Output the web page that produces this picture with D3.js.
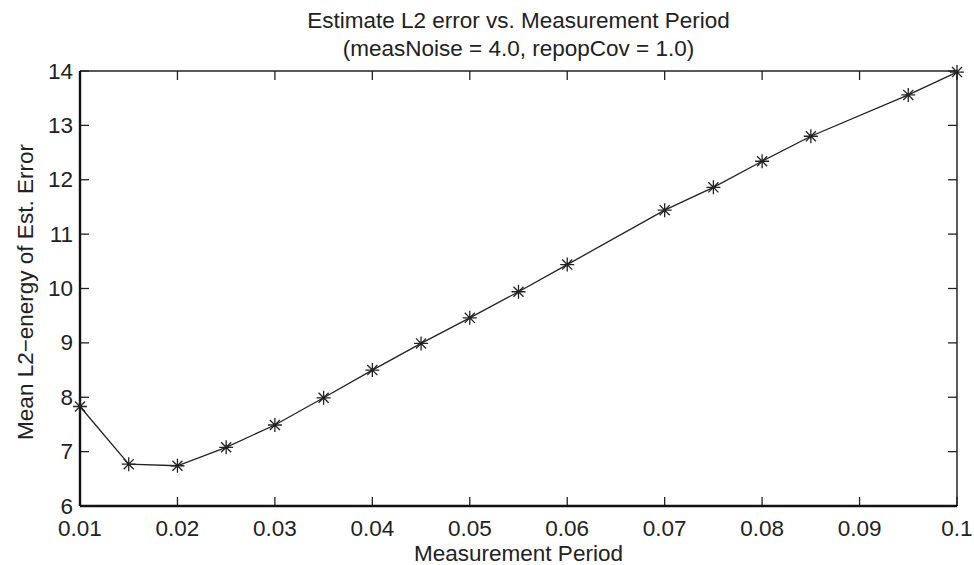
<!DOCTYPE html>
<html>
<head>
<meta charset="utf-8">
<script src="https://cdn.jsdelivr.net/npm/d3@7"></script>
<style>
  body { margin: 0; background: #fff; }
  text { font-family: "Liberation Sans", Arial, sans-serif; fill: #222; }
</style>
</head>
<body>
<div id="main"></div>
<script>
const periods = [0.01, 0.015, 0.02, 0.025, 0.03, 0.035, 0.04, 0.045, 0.05, 0.055, 0.06, 0.07, 0.075, 0.08, 0.085, 0.095, 0.1];
const errors = [7.83, 6.77, 6.74, 7.08, 7.49, 7.99, 8.50, 8.99, 9.46, 9.94, 10.44, 11.44, 11.86, 12.34, 12.80, 13.56, 13.98];
const xTicks = [0.01, 0.02, 0.03, 0.04, 0.05, 0.06, 0.07, 0.08, 0.09, 0.1];
const yTicks = [6, 7, 8, 9, 10, 11, 12, 13, 14];

const ctx = {
    w: 974,
    h: 565,
    left: 80,
    right: 957,
    top: 71,
    bottom: 506,
    tick: 9,
    font_size: 22.5,
};

function createViz() {
    let svg = d3.select("#main").append("svg")
        .attr("width", ctx.w)
        .attr("height", ctx.h);

    let x = d3.scaleLinear().domain([0.01, 0.1]).range([ctx.left, ctx.right]);
    let y = d3.scaleLinear().domain([6, 14]).range([ctx.bottom, ctx.top]);

    let fmtX = d => d === 0.1 ? "0.1" : d3.format(".2f")(d);

    // ticks (inside, mirrored on top/right)
    let g = svg.append("g").attr("stroke", "#222").attr("stroke-width", 1.3);
    xTicks.forEach(t => {
        g.append("line").attr("x1", x(t)).attr("x2", x(t))
            .attr("y1", ctx.bottom).attr("y2", ctx.bottom - ctx.tick);
        g.append("line").attr("x1", x(t)).attr("x2", x(t))
            .attr("y1", ctx.top).attr("y2", ctx.top + ctx.tick);
    });
    yTicks.forEach(t => {
        g.append("line").attr("x1", ctx.left).attr("x2", ctx.left + ctx.tick)
            .attr("y1", y(t)).attr("y2", y(t));
        g.append("line").attr("x1", ctx.right).attr("x2", ctx.right - ctx.tick)
            .attr("y1", y(t)).attr("y2", y(t));
    });

    // box
    svg.append("line").attr("x1", ctx.left).attr("x2", ctx.right)
        .attr("y1", ctx.top).attr("y2", ctx.top)
        .attr("stroke", "#222").attr("stroke-width", 1.5);
    svg.append("line").attr("x1", ctx.right).attr("x2", ctx.right)
        .attr("y1", ctx.top).attr("y2", ctx.bottom)
        .attr("stroke", "#222").attr("stroke-width", 1.5);
    svg.append("line").attr("x1", ctx.left).attr("x2", ctx.right)
        .attr("y1", ctx.bottom).attr("y2", ctx.bottom)
        .attr("stroke", "#111").attr("stroke-width", 2.4);
    svg.append("line").attr("x1", ctx.left).attr("x2", ctx.left)
        .attr("y1", ctx.top).attr("y2", ctx.bottom)
        .attr("stroke", "#111").attr("stroke-width", 2.4);

    // tick labels
    svg.append("g").selectAll("text")
        .data(xTicks).enter().append("text")
        .attr("x", d => x(d))
        .attr("y", 536)
        .attr("text-anchor", "middle")
        .style("font-size", ctx.font_size + "px")
        .text(fmtX);

    svg.append("g").selectAll("text")
        .data(yTicks).enter().append("text")
        .attr("x", 73)
        .attr("y", d => y(d) + 7.5)
        .attr("text-anchor", "end")
        .style("font-size", ctx.font_size + "px")
        .text(d => d);

    // data line
    let data = periods.map((p, i) => [p, errors[i]]);
    svg.append("path")
        .datum(data)
        .attr("fill", "none")
        .attr("stroke", "#222")
        .attr("stroke-width", 1.3)
        .attr("d", d3.line().x(d => x(d[0])).y(d => y(d[1])));

    // asterisk markers
    let r = 7;
    let star = "M0," + (-r) + "V" + r + "M" + (-r) + ",0H" + r
        + "M" + (-r * 0.72) + "," + (-r * 0.72) + "L" + (r * 0.72) + "," + (r * 0.72)
        + "M" + (-r * 0.72) + "," + (r * 0.72) + "L" + (r * 0.72) + "," + (-r * 0.72);
    svg.append("g").selectAll("path")
        .data(data).enter().append("path")
        .attr("transform", d => "translate(" + x(d[0]) + "," + y(d[1]) + ")")
        .attr("d", star)
        .attr("fill", "none")
        .attr("stroke", "#222")
        .attr("stroke-width", 1.3);

    // titles
    let cx = (ctx.left + ctx.right) / 2;
    svg.append("text").attr("x", cx).attr("y", 28)
        .attr("text-anchor", "middle").style("font-size", ctx.font_size + "px")
        .text("Estimate L2 error vs. Measurement Period");
    svg.append("text").attr("x", cx).attr("y", 56)
        .attr("text-anchor", "middle").style("font-size", ctx.font_size + "px")
        .text("(measNoise = 4.0, repopCov = 1.0)");
    svg.append("text").attr("x", cx).attr("y", 561)
        .attr("text-anchor", "middle").style("font-size", ctx.font_size + "px")
        .text("Measurement Period");
    svg.append("text")
        .attr("transform", "translate(33," + 292 + ") rotate(-90)")
        .attr("text-anchor", "middle").style("font-size", ctx.font_size + "px")
        .text("Mean L2\u2212energy of Est. Error");
}

createViz();
</script>
</body>
</html>
